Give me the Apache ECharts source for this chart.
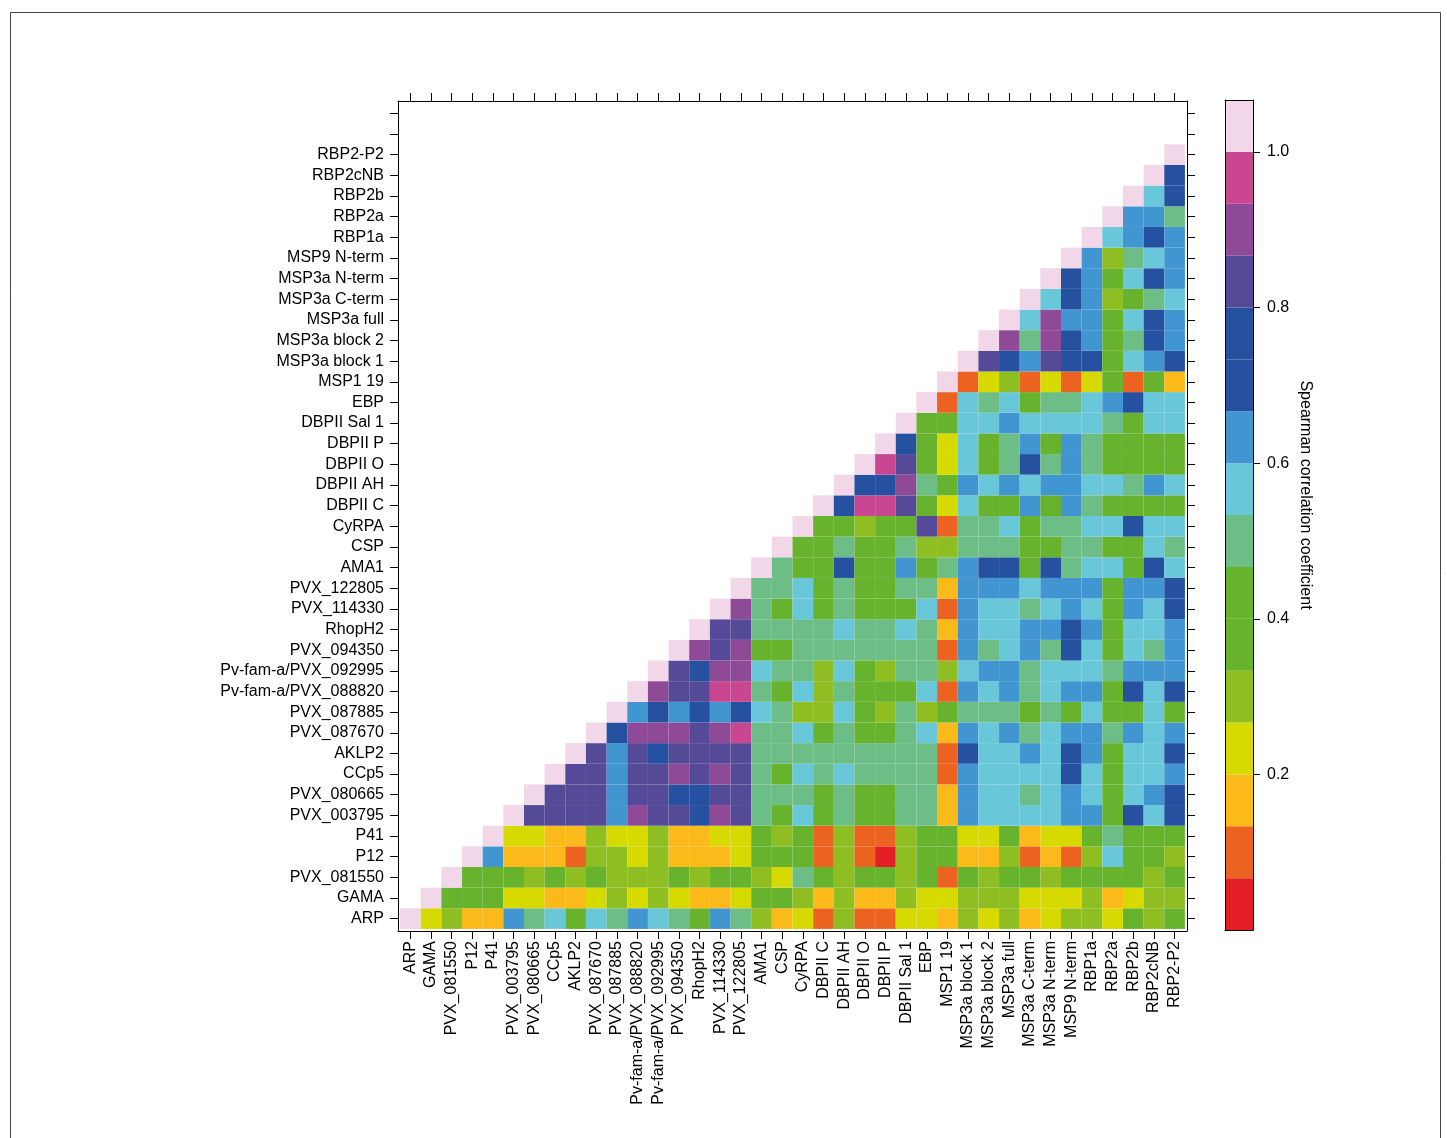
<!DOCTYPE html>
<html><head><meta charset="utf-8">
<script src="https://cdn.jsdelivr.net/npm/echarts@6/dist/echarts.min.js"></script>
<style>html,body{margin:0;padding:0;background:#fff}#c{width:1447px;height:1138px}</style>
</head><body><div id="c"></div>
<script>
// Antigen names (x axis left->right, y axis bottom->top)
const antigens = ['ARP','GAMA','PVX_081550','P12','P41','PVX_003795','PVX_080665','CCp5','AKLP2','PVX_087670','PVX_087885','Pv-fam-a/PVX_088820','Pv-fam-a/PVX_092995','PVX_094350','RhopH2','PVX_114330','PVX_122805','AMA1','CSP','CyRPA','DBPII C','DBPII AH','DBPII O','DBPII P','DBPII Sal 1','EBP','MSP1 19','MSP3a block 1','MSP3a block 2','MSP3a full','MSP3a C-term','MSP3a N-term','MSP9 N-term','RBP1a','RBP2a','RBP2b','RBP2cNB','RBP2-P2'];

// Spearman correlation, row r holds columns r..37
const rhoRows = [
 [1,.23,.30,.17,.17,.63,.50,.57,.40,.57,.50,.63,.57,.50,.40,.63,.50,.30,.17,.23,.10,.30,.10,.10,.23,.23,.17,.30,.23,.30,.17,.23,.30,.30,.23,.40,.30,.40],
 [1,.40,.40,.40,.23,.23,.17,.17,.23,.30,.23,.30,.23,.17,.17,.23,.40,.40,.30,.17,.30,.17,.17,.30,.23,.23,.30,.30,.30,.23,.23,.23,.30,.17,.23,.30,.30],
 [1,.40,.40,.40,.30,.40,.30,.40,.30,.30,.30,.40,.30,.40,.40,.30,.23,.50,.40,.30,.40,.40,.30,.40,.10,.40,.30,.40,.40,.30,.40,.40,.40,.40,.30,.40],
 [1,.63,.17,.17,.17,.10,.30,.30,.23,.30,.17,.17,.17,.23,.40,.40,.40,.10,.30,.10,.03,.30,.40,.40,.17,.17,.30,.10,.17,.10,.30,.57,.40,.40,.30],
 [1,.23,.23,.17,.17,.30,.23,.23,.30,.17,.17,.23,.23,.40,.30,.40,.10,.30,.10,.10,.30,.40,.40,.23,.23,.40,.17,.23,.23,.40,.50,.40,.40,.40],
 [1,.83,.83,.83,.83,.63,.90,.83,.83,.73,.90,.83,.50,.40,.57,.40,.50,.40,.40,.50,.50,.17,.63,.57,.57,.57,.57,.63,.63,.40,.73,.57,.73],
 [1,.83,.83,.83,.63,.83,.83,.73,.73,.83,.83,.50,.50,.50,.40,.50,.40,.40,.50,.50,.17,.63,.57,.57,.50,.57,.63,.57,.40,.57,.63,.73],
 [1,.83,.83,.63,.83,.83,.90,.83,.90,.83,.50,.40,.57,.50,.57,.50,.50,.50,.50,.10,.63,.57,.57,.57,.57,.73,.57,.40,.57,.57,.63],
 [1,.83,.63,.83,.73,.83,.83,.83,.83,.50,.50,.50,.50,.50,.50,.50,.50,.50,.10,.73,.57,.57,.63,.57,.73,.63,.40,.57,.57,.73],
 [1,.73,.90,.90,.90,.83,.90,.97,.50,.50,.57,.40,.50,.40,.40,.50,.57,.17,.63,.57,.63,.50,.57,.63,.63,.50,.63,.57,.63],
 [1,.63,.73,.63,.73,.63,.73,.57,.50,.30,.30,.57,.40,.30,.50,.30,.40,.50,.50,.50,.40,.50,.40,.57,.40,.40,.57,.40],
 [1,.90,.83,.83,.97,.97,.50,.40,.57,.30,.50,.40,.40,.40,.57,.10,.63,.57,.63,.50,.57,.63,.63,.40,.73,.57,.73],
 [1,.83,.73,.90,.90,.57,.50,.50,.30,.57,.40,.30,.50,.50,.30,.57,.63,.63,.50,.57,.57,.57,.50,.63,.63,.63],
 [1,.90,.83,.90,.40,.40,.50,.50,.50,.50,.50,.50,.50,.10,.63,.50,.57,.63,.50,.73,.57,.40,.57,.50,.63],
 [1,.83,.83,.50,.50,.50,.50,.57,.50,.50,.57,.50,.17,.63,.57,.57,.63,.63,.73,.63,.40,.57,.57,.63],
 [1,.90,.50,.40,.57,.40,.50,.40,.40,.40,.57,.10,.63,.57,.57,.50,.57,.63,.57,.40,.63,.57,.73],
 [1,.50,.50,.57,.40,.50,.40,.40,.50,.50,.17,.63,.63,.63,.57,.63,.63,.63,.40,.63,.63,.73],
 [1,.50,.40,.40,.73,.40,.40,.63,.40,.50,.63,.73,.73,.40,.73,.50,.57,.57,.40,.73,.57],
 [1,.40,.40,.50,.40,.40,.50,.30,.30,.50,.50,.50,.40,.40,.50,.50,.40,.40,.57,.50],
 [1,.40,.40,.30,.40,.40,.83,.10,.50,.50,.57,.40,.50,.50,.57,.57,.73,.57,.57],
 [1,.73,.97,.97,.83,.40,.23,.57,.40,.40,.63,.40,.63,.50,.40,.40,.40,.40],
 [1,.73,.73,.90,.50,.40,.63,.57,.63,.57,.63,.63,.57,.57,.50,.63,.57],
 [1,.97,.83,.40,.23,.57,.40,.50,.73,.50,.63,.50,.40,.40,.40,.40],
 [1,.73,.40,.23,.57,.40,.50,.63,.40,.63,.50,.40,.40,.40,.40],
 [1,.40,.40,.57,.57,.63,.57,.57,.57,.57,.50,.40,.57,.57],
 [1,.10,.57,.50,.57,.40,.50,.50,.57,.63,.73,.57,.57],
 [1,.10,.23,.30,.10,.23,.10,.23,.40,.10,.40,.17],
 [1,.83,.73,.63,.83,.73,.73,.40,.57,.63,.73],
 [1,.90,.50,.90,.73,.63,.40,.50,.73,.63],
 [1,.57,.90,.63,.63,.40,.57,.73,.63],
 [1,.57,.73,.63,.30,.40,.50,.57],
 [1,.73,.63,.40,.57,.73,.63],
 [1,.63,.30,.50,.57,.63],
 [1,.57,.63,.73,.63],
 [1,.63,.63,.50],
 [1,.57,.73],
 [1,.73],
 [1]
];

// Colour key: 16 bands of width 1/15 from 0 to 16/15
const bandColors = ['#E31E24','#EC6220','#FBB91A','#D6DA00','#8FBE22','#67B32E','#67B32E','#6CBE86','#68C7D9','#4195D1','#2651A0','#24509E','#544A97','#8E4A97','#C94691','#F2D7E9'];
const bandWidth = 1 / 15;
const keyTicks = [0.2, 0.4, 0.6, 0.8, 1.0];
const keyTitle = 'Spearman correlation coefficient';
const nSlotsY = 40; // two empty tick slots above the last antigen

const cells = [];
rhoRows.forEach((row, r) => row.forEach((v, k) => cells.push([r + k, r, v])));
const bands = bandColors.map((col, i) => [i * bandWidth, (i + 1) * bandWidth, i]);
const pieces = bandColors.map((col, i) => i === bandColors.length - 1
  ? { gte: i * bandWidth, lte: (i + 1) * bandWidth + 1e-9, color: col }
  : { gte: i * bandWidth, lt: (i + 1) * bandWidth, color: col });

const idxX = antigens.map((_, i) => i);
const idxY = Array.from({ length: nSlotsY }, (_, i) => i);
const FONT = 'Liberation Sans, Arial, Helvetica, sans-serif';
const lineStyle = { color: '#000', width: 1 };
const tick = (vals) => ({ show: true, inside: false, length: 8, customValues: vals, lineStyle: { color: '#000', width: 1 } });

const chart = echarts.init(document.getElementById('c'), null, { renderer: 'canvas' });
chart.setOption({
  backgroundColor: '#fff',
  animation: false,
  graphic: [{ type: 'rect', shape: { x: 10.5, y: 12.5, width: 1430, height: 1140 }, style: { fill: 'none', stroke: '#444', lineWidth: 1 }, silent: true }],
  grid: [
    { left: 398, top: 101, width: 789, height: 830, outerBoundsMode: 'none', containLabel: false },
    { left: 1225, top: 100, width: 28, height: 830, outerBoundsMode: 'none', containLabel: false }
  ],
  xAxis: [
    { type: 'value', gridIndex: 0, position: 'bottom', min: -0.6, max: antigens.length - 0.4, z: 10,
      axisLine: { show: true, onZero: false, lineStyle }, axisTick: tick(idxX), splitLine: { show: false },
      axisLabel: { show: true, customValues: idxX, rotate: 90, margin: 10, fontSize: 16, color: '#000', fontFamily: FONT,
        formatter: (v) => antigens[Math.round(v)] } },
    { type: 'value', gridIndex: 0, position: 'top', min: -0.6, max: antigens.length - 0.4, z: 10,
      axisLine: { show: true, onZero: false, lineStyle }, axisTick: tick(idxX), splitLine: { show: false }, axisLabel: { show: false } },
    { type: 'value', gridIndex: 1, position: 'bottom', min: 0, max: 1, z: 10,
      axisLine: { show: true, onZero: false, lineStyle }, axisTick: { show: false }, splitLine: { show: false }, axisLabel: { show: false } },
    { type: 'value', gridIndex: 1, position: 'top', min: 0, max: 1, z: 10,
      axisLine: { show: true, onZero: false, lineStyle }, axisTick: { show: false }, splitLine: { show: false }, axisLabel: { show: false } }
  ],
  yAxis: [
    { type: 'value', gridIndex: 0, position: 'left', min: -0.6, max: nSlotsY - 0.4, z: 10,
      axisLine: { show: true, onZero: false, lineStyle }, axisTick: tick(idxY), splitLine: { show: false },
      axisLabel: { show: true, customValues: idxX, margin: 14, fontSize: 16, color: '#000', fontFamily: FONT,
        formatter: (v) => antigens[Math.round(v)] } },
    { type: 'value', gridIndex: 0, position: 'right', min: -0.6, max: nSlotsY - 0.4, z: 10,
      axisLine: { show: true, onZero: false, lineStyle }, axisTick: tick(idxY), splitLine: { show: false }, axisLabel: { show: false } },
    { type: 'value', gridIndex: 1, position: 'right', min: 0, max: bandColors.length * bandWidth, z: 10,
      axisLine: { show: true, onZero: false, lineStyle },
      axisTick: { show: true, length: 7, customValues: keyTicks, lineStyle: { color: '#000', width: 1 } },
      splitLine: { show: false },
      axisLabel: { show: true, customValues: keyTicks, margin: 14, fontSize: 16, color: '#000', fontFamily: FONT,
        formatter: (v) => v.toFixed(1) },
      name: keyTitle, nameLocation: 'middle', nameRotate: -90, nameGap: 44,
      nameTextStyle: { fontSize: 16, color: '#000', fontFamily: FONT, padding: [0, 40, 0, 0] } },
    { type: 'value', gridIndex: 1, position: 'left', min: 0, max: bandColors.length * bandWidth, z: 10,
      axisLine: { show: true, onZero: false, lineStyle }, axisTick: { show: false }, splitLine: { show: false }, axisLabel: { show: false } }
  ],
  visualMap: {
    type: 'piecewise', show: false, seriesIndex: 0, dimension: 2, pieces: pieces
  },
  series: [
    { type: 'custom', xAxisIndex: 0, yAxisIndex: 0, data: cells, encode: { x: 0, y: 1 },
      renderItem: (params, api) => {
        const c = api.value(0), r = api.value(1);
        const p = api.coord([c - 0.5, r + 0.5]);
        const s = api.size([1, 1]);
        return { type: 'rect', shape: { x: p[0], y: p[1], width: s[0], height: s[1] },
          style: { fill: api.visual('color'), stroke: null } };
      } },
    { type: 'custom', xAxisIndex: 2, yAxisIndex: 2, data: bands, encode: { y: [0, 1] },
      renderItem: (params, api) => {
        const lo = api.value(0), hi = api.value(1), i = api.value(2);
        const p1 = api.coord([0, hi]);
        const p2 = api.coord([1, lo]);
        return { type: 'rect', shape: { x: p1[0], y: p1[1], width: p2[0] - p1[0], height: p2[1] - p1[1] },
          style: { fill: bandColors[i] } };
      } }
  ]
});
</script>
</body></html>
